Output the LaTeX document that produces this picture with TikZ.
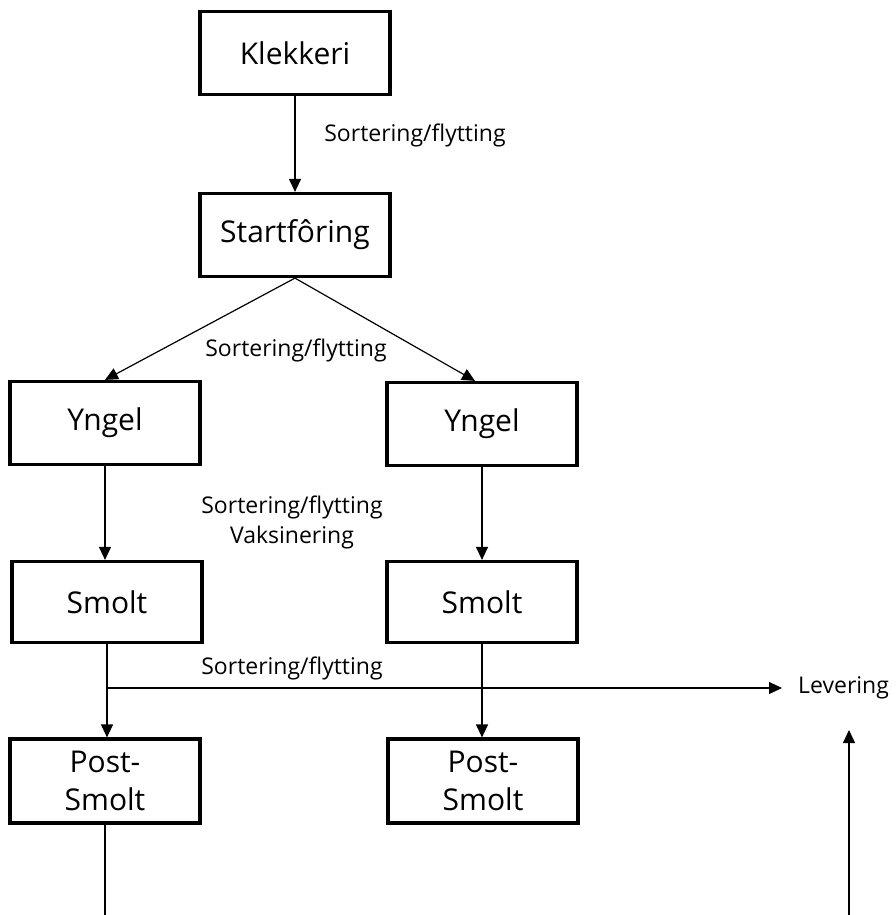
\documentclass[tikz,border=0pt]{standalone}
\usepackage{fontspec}
\setmainfont{Open Sans}
\usetikzlibrary{arrows.meta,calc}
\begin{document}
\begin{tikzpicture}[x=1pt,y=-1pt,
  stage/.style={draw=black,line width=3.2pt,minimum width=190pt,minimum height=83pt,inner sep=0pt,align=center,font=\fontsize{30}{38}\selectfont},
  lbl/.style={inner sep=0pt,align=center,font=\fontsize{23}{30}\selectfont},
  arr/.style={line width=1.2pt,-{Triangle[length=13pt,width=12pt]}},
  ln/.style={line width=1.2pt}]
\useasboundingbox (0,0) rectangle (895,915);
\node[stage] (K) at (295,53) {Klekkeri};
\node[stage] (S) at (295,235) {Startfôring};
\node[stage] (YL) at (105,423) {Yngel};
\node[stage] (YR) at (482,424) {Yngel};
\node[stage,minimum height=81pt] (SL) at (107,602) {Smolt};
\node[stage,minimum height=81pt] (SR) at (482,602) {Smolt};
\node[stage,minimum height=84pt] (PL) at (105,781) {Post-\\Smolt};
\node[stage,minimum height=84pt] (PR) at (483,781) {Post-\\Smolt};
\node[lbl] (l1) at (415,135) {Sortering/flytting};
\node[lbl] (l2) at (296,350) {Sortering/flytting};
\node[lbl] (l3) at (292,522) {Sortering/flytting\\Vaksinering};
\node[lbl] (l4) at (292,668) {Sortering/flytting};
\node[lbl,anchor=west] (lev) at (798,688) {Levering};
\coordinate (jn) at (107,688);
\coordinate (levin) at (782,688);
\coordinate (pbot) at (107,915);
\coordinate (ubot) at (849,915);
\coordinate (utop) at (849,730);
\draw[arr] (K.south) -- (S.north);
\draw[arr] (S.south) -- (YL.north);
\draw[arr] (S.south) -- ([xshift=-7pt]YR.north);
\draw[arr] (YL.south) -- (YL.south |- SL.north);
\draw[arr] (YR.south) -- (YR.south |- SR.north);
\draw[arr] (SL.south) -- (SL.south |- PL.north);
\draw[arr] (SR.south) -- (SR.south |- PR.north);
\draw[arr] (jn) -- (levin);
\draw[ln] (PL.south) -- (PL.south |- pbot);
\draw[arr] (ubot) -- (utop);
\end{tikzpicture}
\end{document}
